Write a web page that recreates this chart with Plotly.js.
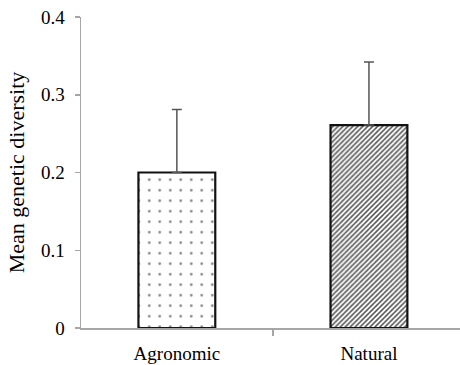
<!DOCTYPE html>
<html>
<head>
<meta charset="utf-8">
<script src="https://cdn.plot.ly/plotly-3.0.1.min.js"></script>
<style>html,body{margin:0;padding:0;background:#fff;}#chart{width:460px;height:365px;}</style>
</head>
<body>
<div id="chart"></div>
<script>
const categories = ["Agronomic", "Natural"];
const meanDiversity = [0.2, 0.261];
const errorUp = [0.081, 0.081];
const yTickVals = [0, 0.1, 0.2, 0.3, 0.4];
const yTickText = ["0", "0.1", "0.2", "0.3", "0.4"];

const SERIF = "'Liberation Serif', 'Times New Roman', 'DejaVu Serif', serif";

const trace = {
  type: "bar",
  x: categories,
  y: meanDiversity,
  width: 0.4,
  marker: {
    color: "white",
    line: {color: "#111", width: 2.2},
    pattern: {
      shape: [".", "/"],
      fgcolor: ["#888", "#555"],
      bgcolor: "white",
      size: [10.5, 3.5],
      solidity: [0.05, 0.45],
      fillmode: "replace"
    }
  },
  error_y: {
    type: "data",
    symmetric: false,
    array: errorUp,
    arrayminus: [0, 0],
    color: "#555",
    thickness: 1.5,
    width: 5
  },
  hoverinfo: "none"
};

const layout = {
  width: 460,
  height: 365,
  margin: {l: 81, r: 0, t: 17, b: 37},
  paper_bgcolor: "white",
  plot_bgcolor: "white",
  showlegend: false,
  font: {family: SERIF, color: "#000", size: 19},
  xaxis: {
    type: "category",
    range: [-0.499, 1.474],
    showline: true,
    linecolor: "#a6a6a6",
    linewidth: 1.5,
    ticks: "outside",
    tickson: "boundaries",
    ticklen: 6,
    tickcolor: "#a6a6a6",
    tickwidth: 1.5,
    showgrid: false,
    zeroline: false,
    ticklabelstandoff: 8,
    tickfont: {family: SERIF, size: 19, color: "#000"}
  },
  yaxis: {
    range: [0, 0.4],
    tickvals: yTickVals,
    ticktext: yTickText,
    showline: true,
    linecolor: "#a6a6a6",
    linewidth: 1.5,
    ticks: "outside",
    ticklen: 5,
    tickcolor: "#a6a6a6",
    tickwidth: 1.5,
    showgrid: false,
    zeroline: false,
    tickfont: {family: SERIF, size: 19, color: "#000"},
    ticklabelstandoff: 6,
    title: {text: "Mean genetic diversity", font: {family: SERIF, size: 22, color: "#000"}, standoff: 10}
  }
};

Plotly.newPlot("chart", [trace], layout, {displayModeBar: false, staticPlot: true});
</script>
</body>
</html>
